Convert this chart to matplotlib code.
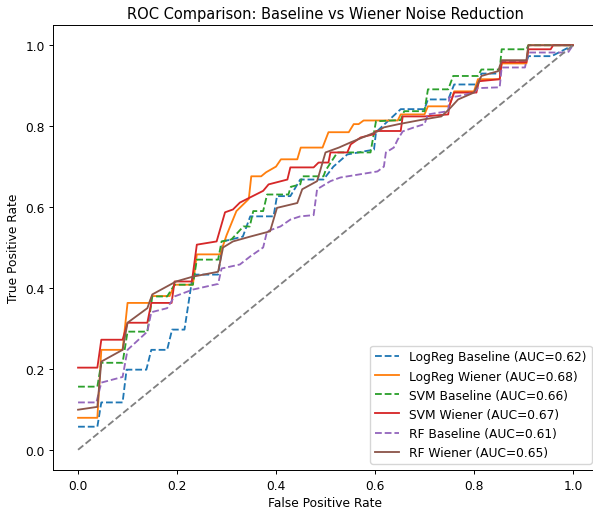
import matplotlib
matplotlib.use("Agg")
import matplotlib.pyplot as plt

# ROC points (fpr, tpr)
logreg_base_fpr = [0, 0.039, 0.047, 0.09, 0.098, 0.138, 0.148, 0.18, 0.19, 0.215, 0.232, 0.283,
                   0.293, 0.333, 0.348, 0.395, 0.402, 0.429, 0.449, 0.496, 0.516, 0.544, 0.598,
                   0.602, 0.652, 0.70, 0.707, 0.748, 0.76, 0.808, 0.815, 0.852, 0.856, 0.906,
                   0.91, 0.957, 1.0]
logreg_base_tpr = [0.057, 0.057, 0.117, 0.117, 0.198, 0.198, 0.247, 0.247, 0.297, 0.297, 0.433, 0.433,
                   0.515, 0.527, 0.577, 0.577, 0.627, 0.627, 0.668, 0.668, 0.70, 0.73, 0.742,
                   0.785, 0.842, 0.842, 0.866, 0.866, 0.903, 0.903, 0.93, 0.93, 0.958, 0.958,
                   0.973, 0.973, 1.0]

logreg_wien_fpr = [0, 0.039, 0.047, 0.09, 0.10, 0.144, 0.15, 0.185, 0.195, 0.232, 0.24, 0.287,
                   0.30, 0.32, 0.345, 0.35, 0.37, 0.38, 0.40, 0.41, 0.443, 0.45, 0.494, 0.506,
                   0.547, 0.557, 0.567, 0.577, 0.646, 0.652, 0.70, 0.707, 0.75, 0.76, 0.80,
                   0.808, 0.852, 0.856, 0.906, 0.91, 1.0]
logreg_wien_tpr = [0.079, 0.079, 0.247, 0.247, 0.363, 0.363, 0.38, 0.38, 0.408, 0.408, 0.483, 0.483,
                   0.53, 0.59, 0.62, 0.676, 0.676, 0.686, 0.70, 0.718, 0.718, 0.747, 0.747, 0.785,
                   0.785, 0.805, 0.805, 0.814, 0.814, 0.829, 0.829, 0.849, 0.849, 0.886, 0.886,
                   0.916, 0.916, 0.955, 0.955, 1.0, 1.0]

svm_base_fpr = [0, 0.039, 0.047, 0.09, 0.10, 0.14, 0.15, 0.18, 0.195, 0.232, 0.24, 0.283, 0.29,
                0.31, 0.334, 0.347, 0.354, 0.374, 0.382, 0.425, 0.43, 0.449, 0.453, 0.496, 0.50,
                0.524, 0.591, 0.602, 0.652, 0.659, 0.70, 0.707, 0.748, 0.758, 0.808, 0.815,
                0.852, 0.856, 0.906, 0.91, 1.0]
svm_base_tpr = [0.156, 0.156, 0.215, 0.215, 0.292, 0.292, 0.379, 0.379, 0.408, 0.408, 0.47, 0.47, 0.515,
                0.52, 0.552, 0.552, 0.59, 0.59, 0.631, 0.631, 0.65, 0.656, 0.676, 0.676, 0.69,
                0.735, 0.735, 0.812, 0.815, 0.837, 0.837, 0.891, 0.891, 0.924, 0.924, 0.94,
                0.94, 0.99, 0.99, 1.0, 1.0]

svm_wien_fpr = [0, 0.039, 0.047, 0.09, 0.10, 0.14, 0.148, 0.189, 0.195, 0.23, 0.24, 0.28, 0.297,
                0.313, 0.327, 0.348, 0.374, 0.385, 0.423, 0.429, 0.476, 0.486, 0.506, 0.51,
                0.544, 0.551, 0.571, 0.598, 0.602, 0.652, 0.656, 0.70, 0.748, 0.75, 0.76, 0.805,
                0.81, 0.852, 0.856, 0.906, 0.91, 0.955, 0.96, 1.0]
svm_wien_tpr = [0.203, 0.203, 0.272, 0.272, 0.314, 0.314, 0.363, 0.363, 0.416, 0.416, 0.507, 0.515, 0.587,
                0.594, 0.611, 0.624, 0.64, 0.656, 0.668, 0.698, 0.698, 0.71, 0.71, 0.735,
                0.735, 0.755, 0.772, 0.78, 0.788, 0.788, 0.824, 0.824, 0.829, 0.849, 0.883, 0.883,
                0.911, 0.916, 0.958, 0.958, 0.99, 0.99, 1.0, 1.0]

rf_base_fpr = [0, 0.037, 0.047, 0.09, 0.10, 0.14, 0.148, 0.18, 0.195, 0.232, 0.283, 0.29, 0.327,
               0.348, 0.374, 0.382, 0.409, 0.429, 0.449, 0.476, 0.483, 0.51, 0.53, 0.605, 0.618,
               0.622, 0.638, 0.646, 0.656, 0.679, 0.70, 0.707, 0.748, 0.75, 0.768, 0.80, 0.808,
               0.852, 0.856, 0.903, 0.91, 0.99, 1.0]
rf_base_tpr = [0.117, 0.117, 0.166, 0.18, 0.247, 0.292, 0.34, 0.35, 0.379, 0.396, 0.41, 0.448, 0.458,
               0.478, 0.50, 0.54, 0.552, 0.569, 0.577, 0.58, 0.644, 0.664, 0.673, 0.688, 0.70,
               0.735, 0.747, 0.767, 0.787, 0.797, 0.805, 0.829, 0.837, 0.871, 0.874, 0.883, 0.894,
               0.896, 0.945, 0.945, 0.982, 0.982, 1.0]

rf_wien_fpr = [0, 0.039, 0.047, 0.09, 0.10, 0.14, 0.15, 0.198, 0.232, 0.283, 0.293, 0.313, 0.348,
               0.388, 0.402, 0.443, 0.453, 0.483, 0.50, 0.527, 0.551, 0.605, 0.618, 0.648, 0.70,
               0.734, 0.75, 0.768, 0.80, 0.815, 0.849, 0.856, 0.906, 0.91, 1.0]
rf_wien_tpr = [0.099, 0.106, 0.218, 0.247, 0.314, 0.35, 0.384, 0.416, 0.428, 0.44, 0.50, 0.515, 0.527,
               0.54, 0.598, 0.61, 0.644, 0.664, 0.735, 0.747, 0.76, 0.787, 0.797, 0.805, 0.817,
               0.824, 0.842, 0.866, 0.883, 0.924, 0.936, 0.963, 0.963, 1.0, 1.0]

curves = [
    (logreg_base_fpr, logreg_base_tpr, "LogReg Baseline (AUC=0.62)", "C0", "--"),
    (logreg_wien_fpr, logreg_wien_tpr, "LogReg Wiener (AUC=0.68)", "C1", "-"),
    (svm_base_fpr, svm_base_tpr, "SVM Baseline (AUC=0.66)", "C2", "--"),
    (svm_wien_fpr, svm_wien_tpr, "SVM Wiener (AUC=0.67)", "C3", "-"),
    (rf_base_fpr, rf_base_tpr, "RF Baseline (AUC=0.61)", "C4", "--"),
    (rf_wien_fpr, rf_wien_tpr, "RF Wiener (AUC=0.65)", "C5", "-"),
]

# the reference looks like a default figure shrunk to ~88%
s = 0.88
plt.rcParams.update({
    "font.size": 10 * s,
    "axes.titlesize": 12 * s,
    "lines.linewidth": 1.5 * s,
    "axes.linewidth": 0.8 * s,
    "xtick.major.size": 3.5 * s,
    "ytick.major.size": 3.5 * s,
    "xtick.major.width": 0.8 * s,
    "ytick.major.width": 0.8 * s,
    "xtick.major.pad": 3.5 * s,
    "ytick.major.pad": 3.5 * s,
    "axes.titlepad": 6 * s,
    "axes.labelpad": 4 * s,
})

fig = plt.figure(figsize=(5.93, 5.10), dpi=100)
ax = fig.add_axes([0.0899, 0.0765, 0.918, 0.8725])

for fpr, tpr, label, color, ls in curves:
    ax.plot(fpr, tpr, linestyle=ls, color=color, label=label)

ax.plot([0, 1], [0, 1], linestyle="--", color="gray")

ax.set_title("ROC Comparison: Baseline vs Wiener Noise Reduction")
ax.set_xlabel("False Positive Rate")
ax.set_ylabel("True Positive Rate")
ax.legend(loc="lower right")

fig.savefig("out.png", dpi=100)
